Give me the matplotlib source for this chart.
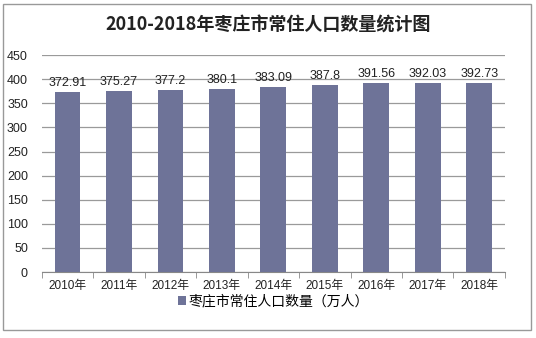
import matplotlib.pyplot as plt
from matplotlib.patches import Rectangle
import numpy as np

plt.rcParams['font.family'] = ['Noto Sans CJK SC', 'DejaVu Sans']

years = ["2010年", "2011年", "2012年", "2013年", "2014年", "2015年", "2016年", "2017年", "2018年"]
population = [372.91, 375.27, 377.2, 380.1, 383.09, 387.8, 391.56, 392.03, 392.73]
value_labels = ["372.91", "375.27", "377.2", "380.1", "383.09", "387.8", "391.56", "392.03", "392.73"]

fig = plt.figure(figsize=(5.36, 3.38), dpi=100)
ax = fig.add_axes([0.078, 0.195, 0.864, 0.642])

x = np.arange(len(years))
ax.bar(x, population, width=0.5, color="#6e7398", zorder=3,
       label="枣庄市常住人口数量（万人）")

for xi, v, s in zip(x, population, value_labels):
    ax.text(xi, v + 6, s, ha="center", va="bottom", fontsize=9,
            color="#222222", family=["Liberation Sans", "DejaVu Sans"], zorder=4)

ax.set_ylim(0, 450)
ax.set_yticks(range(0, 451, 50))
ax.set_xlim(-0.5, len(years) - 0.5)
ax.set_xticks(x)
ax.set_xticklabels(years, fontsize=8.5, color="#222222")
ax.set_xticks(np.arange(-0.5, len(years), 1), minor=True)
ax.tick_params(axis="x", which="major", length=0, pad=6)
ax.tick_params(axis="x", which="minor", length=4, color="#888888")
ax.tick_params(axis="y", length=0, labelsize=9, colors="#222222", pad=10)
for lab in ax.get_yticklabels():
    lab.set_family(["Liberation Sans", "DejaVu Sans"])
for lab in ax.get_xticklabels():
    lab.set_family(["Liberation Sans", "Noto Sans CJK SC"])

ax.grid(axis="y", color="#9a9a9a", linewidth=0.9, zorder=0)
for side in ["top", "right", "left"]:
    ax.spines[side].set_visible(False)
ax.spines["bottom"].set_color("#888888")

fig.text(0.5, 0.925, "2010-2018年枣庄市常住人口数量统计图", ha="center", va="center",
         fontsize=13, fontweight="bold", color="#222222")

ax.legend(loc="center", bbox_to_anchor=(0.5, -0.135), bbox_transform=ax.transAxes,
          frameon=False, fontsize=10, handlelength=0.6, handleheight=0.6,
          handletextpad=0.2)

fig.patches.append(Rectangle((0.006, 0.024), 0.985, 0.965, transform=fig.transFigure,
                             fill=False, edgecolor="#999999", linewidth=1.0))

fig.savefig("out.png", dpi=100)
